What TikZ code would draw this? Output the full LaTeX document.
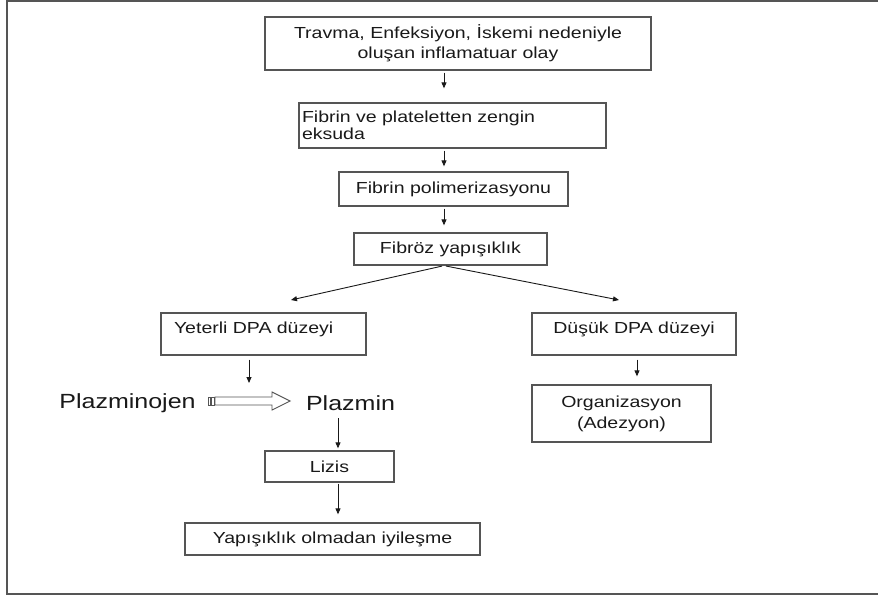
\documentclass[tikz,border=0pt]{standalone}
\usepackage{fontspec}
\setmainfont{Liberation Sans}[FakeStretch=1.22]
\usetikzlibrary{arrows.meta}
\definecolor{boxgray}{RGB}{85,85,85}
\definecolor{inkc}{RGB}{25,25,25}
\tikzset{
  every node/.style={font=\fontsize{16}{20}\selectfont, text=inkc},
  box/.style={draw=boxgray, line width=1.3pt, inner sep=0pt, align=center},
  lbl/.style={inner sep=0pt},
  big/.style={inner sep=0pt, font=\fontsize{20.5}{24}\selectfont},
  arr/.style={draw=inkc, line width=0.9pt, -{Triangle[length=6pt,width=5pt]}},
  frame/.style={draw=boxgray, line width=2pt},
  hollow/.style={draw=boxgray, line width=0.9pt, fill=white}
}
\begin{document}
\begin{tikzpicture}[x=1pt,y=-1pt]
\useasboundingbox (0,0) rectangle (878,599);
% outer frame
\draw[frame] (878,1) -- (7,1) -- (7,594) -- (878,594);

% boxes
\node[box, minimum width=386pt, minimum height=53pt] (b1) at (458,43.5)
  {Travma, Enfeksiyon, İskemi nedeniyle\\oluşan inflamatuar olay};
\node[box, minimum height=45pt, text width=301pt, inner xsep=3pt, align=left, font=\fontsize{16}{17}\selectfont] (b2) at (452.5,125.5)
  {Fibrin ve plateletten zengin\\eksuda};
\node[box, minimum width=229pt, minimum height=34pt] (b3) at (453.5,189) {Fibrin polimerizasyonu};
\node[box, minimum width=193pt, minimum height=32pt] (b4) at (450.5,249) {Fibröz yapışıklık};
\node[box, minimum height=42pt, text width=179pt, inner xsep=13pt, align=left, text height=12pt, text depth=12.5pt] (b5) at (263.5,334) {Yeterli DPA düzeyi};
\node[box, minimum width=204pt, minimum height=42pt, text height=12pt, text depth=12.5pt] (b6) at (634,334) {Düşük DPA düzeyi};
\node[box, minimum width=179pt, minimum height=57pt, font=\fontsize{16}{21}\selectfont] (org) at (621.5,413.5) {Organizasyon\\(Adezyon)};
\node[box, minimum width=129pt, minimum height=31pt] (lz) at (329.5,466.5) {Lizis};
\node[box, minimum width=295pt, minimum height=32pt] (fin) at (332.5,539) {Yapışıklık olmadan iyileşme};

% large labels
\node[big] (plg) at (127.5,403) {Plazminojen};
\node[big] (plz) at (350.5,403) {Plazmin};

% helper coordinates
\coordinate (cx) at (444,0);
\coordinate (dl) at (291,300);
\coordinate (dr) at (619,300);
\coordinate (a5e) at (249,383);
\coordinate (c6) at (637,0);
\coordinate (c7) at (338,0);

% connectors
\draw[arr, shorten <=2pt, shorten >=14pt] (b1.south -| cx) -- (b2.north -| cx);
\draw[arr, shorten <=2pt, shorten >=5pt] (b2.south -| cx) -- (b3.north -| cx);
\draw[arr, shorten <=2pt, shorten >=7pt] (b3.south -| cx) -- (b4.north -| cx);
\draw[arr, shorten <=2pt] (b4.south -| cx) -- (dl);
\draw[arr, shorten <=2pt] (b4.south -| cx) -- (dr);
\draw[arr, shorten <=4pt] (b5.south -| a5e) -- (a5e);
\draw[arr, shorten <=4pt, shorten >=8pt] (b6.south -| c6) -- (org.north -| c6);
\draw[arr, shorten <=7.5pt, shorten >=2pt] (plz.south -| c7) -- (lz.north -| c7);
\draw[arr, shorten <=1pt, shorten >=8pt] (lz.south -| c7) -- (fin.north -| c7);

% striped hollow arrow Plazminojen -> Plazmin
\draw[hollow] (208,397) rectangle (210.5,405);
\draw[hollow] (211.5,397) rectangle (214,405);
\draw[hollow] (215,397) -- (272,397) -- (272,392) -- (290,401) -- (272,410) -- (272,405) -- (215,405) -- cycle;
\end{tikzpicture}
\end{document}
